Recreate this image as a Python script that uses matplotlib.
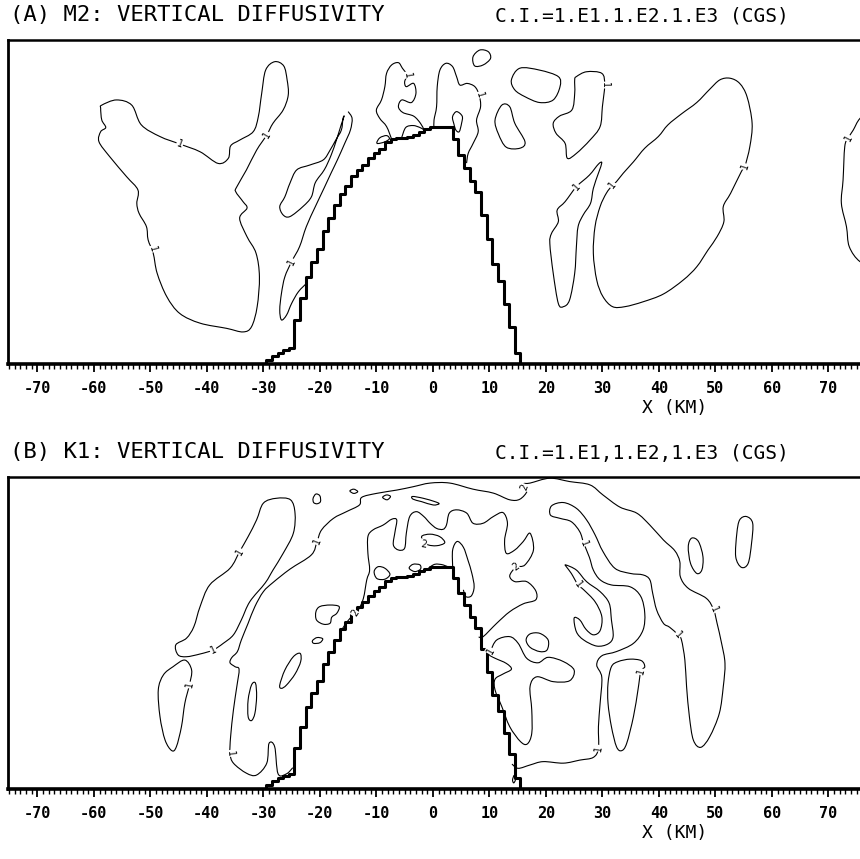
import numpy as np
import matplotlib
matplotlib.use("Agg")
import matplotlib.pyplot as plt
from matplotlib.path import Path
from matplotlib.patches import PathPatch

plt.rcParams['font.family'] = 'DejaVu Sans Mono'
plt.rcParams['axes.unicode_minus'] = False

# x in km, z in height units of the frame (0 = ground, frame top ~10)
TOPO_X = list(range(-31, 17))
TOPO_Z = [0, 0, 0.12, 0.25, 0.35, 0.43, 0.50, 1.35, 2.05, 2.70, 3.15, 3.55,
          4.10, 4.50, 4.90, 5.25, 5.50, 5.80, 6.00, 6.15, 6.35, 6.50, 6.65,
          6.85, 6.95, 6.97, 6.98, 7.00, 7.08, 7.17, 7.25, 7.30, 7.30, 7.30,
          7.30, 6.95, 6.45, 6.05, 5.65, 5.30, 4.60, 3.85, 3.10, 2.55, 1.85,
          1.15, 0.35, 0]

TICKS = list(range(-70, 80, 10))

# ---- panel A (M2) contours, 1.E1 level ----
A_BODY = [(-58.6, 7.99), (-56.0, 8.15), (-53.3, 7.99), (-51.6, 7.38), (-48.3, 7.02),
          (-44.8, 6.79), (-41.2, 6.55), (-38.0, 6.19), (-36.2, 6.35), (-35.8, 6.73),
          (-34.2, 6.91), (-31.8, 7.17), (-30.9, 7.63), (-30.3, 8.35), (-29.6, 9.07),
          (-28.0, 9.33), (-26.4, 9.20), (-25.8, 8.77), (-25.6, 8.30), (-26.5, 7.84),
          (-28.3, 7.43), (-29.4, 7.07), (-31.2, 6.60), (-33.0, 5.99), (-34.7, 5.47),
          (-34.9, 5.32), (-33.6, 5.01), (-32.9, 4.81), (-34.2, 4.50), (-32.9, 3.93),
          (-31.3, 3.42), (-30.7, 2.69), (-31.1, 1.77), (-32.1, 1.15), (-33.6, 0.99),
          (-36.5, 1.10), (-41.2, 1.26), (-44.8, 1.56), (-47.1, 2.08), (-48.8, 2.80),
          (-49.5, 3.42), (-50.4, 3.83), (-50.7, 4.24), (-52.0, 4.65), (-52.4, 4.96),
          (-52.2, 5.37), (-54.2, 5.78), (-57.2, 6.40), (-59.1, 6.86), (-58.8, 7.17),
          (-57.9, 7.30), (-58.6, 7.53), (-58.8, 7.89)]
A_BAND = [(-15.9, 7.58), (-16.2, 7.22), (-17.2, 6.91), (-18.2, 6.60), (-19.4, 6.30),
          (-21.8, 6.14), (-24.1, 5.99), (-25.3, 5.58), (-26.2, 5.16), (-27.1, 4.86),
          (-26.5, 4.60), (-25.3, 4.55), (-23.0, 4.86), (-21.5, 5.16), (-20.8, 5.60),
          (-19.2, 6.00), (-18.0, 6.45), (-17.0, 6.95), (-16.2, 7.40), (-15.7, 7.65)]
A_BAND_OUT = [(-15.0, 7.79), (-14.3, 7.58), (-14.6, 7.22), (-15.6, 6.81), (-16.9, 6.30),
              (-18.0, 5.90), (-19.2, 5.45), (-20.8, 4.86), (-22.4, 4.24), (-23.6, 3.62),
              (-25.0, 3.16), (-26.2, 2.69), (-26.8, 2.18), (-27.1, 1.67), (-26.8, 1.36),
              (-25.9, 1.51), (-25.0, 1.87), (-23.8, 2.23), (-22.3, 2.50)]
A_SUMMIT_L = [(-7.3, 6.94), (-8.2, 7.33), (-9.4, 7.58), (-10.0, 7.84), (-9.1, 8.15),
              (-8.5, 8.56), (-8.2, 8.97), (-7.3, 9.23), (-6.1, 9.30), (-5.4, 9.13),
              (-4.6, 8.92), (-5.0, 8.71), (-4.7, 8.56), (-3.4, 8.66), (-3.0, 8.35),
              (-3.8, 8.07), (-5.5, 8.15), (-6.1, 7.94), (-5.3, 7.76), (-3.4, 7.65),
              (-2.2, 7.43), (-1.6, 7.24)]
A_DOME = [(-5.5, 7.00), (-4.8, 7.30), (-3.5, 7.36), (-2.3, 7.30), (-1.7, 7.24)]
A_SLOPE = [(-9.9, 6.81), (-9.4, 6.98), (-8.2, 7.05), (-7.7, 6.95), (-8.6, 6.85)]
A_SUMMIT_R = [(0.2, 7.30), (0.2, 7.53), (0.65, 7.94), (0.77, 8.56), (1.24, 9.07),
              (2.30, 9.28), (3.48, 9.18), (4.19, 8.87), (4.78, 8.61), (6.07, 8.66),
              (7.43, 8.56), (8.19, 8.30), (8.44, 7.94), (7.73, 7.53), (8.02, 7.17),
              (7.13, 6.81), (6.25, 6.50), (5.96, 6.20)]
A_SUMMIT_R_IN = [(3.48, 7.63), (4.19, 7.79), (5.19, 7.65), (5.08, 7.43), (4.66, 7.17),
                 (4.07, 7.22), (3.72, 7.41)]
A_OVAL1 = [(7.1, 9.48), (8.3, 9.69), (9.8, 9.64), (10.2, 9.43), (8.9, 9.23), (7.4, 9.20)]
A_OVAL2 = [(13.9, 8.77), (15.4, 9.13), (18.9, 9.07), (22.2, 8.87), (22.5, 8.56),
           (21.3, 8.15), (18.9, 8.07), (16.3, 8.25), (14.5, 8.46)]
A_BLOB3 = [(11.0, 7.53), (12.2, 7.99), (13.6, 7.94), (14.5, 7.43), (16.3, 6.86),
           (15.4, 6.66), (13.0, 6.69), (11.6, 7.10)]
A_BLOB4 = [(25.4, 8.87), (27.2, 9.02), (29.9, 8.97), (30.4, 8.61), (30.0, 7.94),
           (29.6, 7.33), (27.8, 6.91), (25.4, 6.50), (23.8, 6.35), (23.4, 6.81),
           (21.8, 7.12), (21.3, 7.43), (22.4, 7.65), (24.6, 7.84), (25.1, 8.35), (25.1, 8.77)]
A_NARROW = [(29.9, 6.21), (29.3, 5.89), (28.4, 5.42), (27.9, 4.96), (26.6, 4.60),
            (25.7, 4.24), (25.4, 3.62), (25.1, 2.80), (24.2, 1.98), (23.1, 1.77),
            (22.2, 1.87), (21.3, 2.80), (20.7, 3.72), (21.0, 4.03), (22.2, 4.39),
            (22.0, 4.75), (23.4, 5.01), (25.4, 5.47), (27.7, 5.83), (29.3, 6.17)]
A_BIG = [(31.8, 5.52), (30.7, 5.27), (29.6, 4.86), (28.7, 4.24), (28.4, 3.42),
         (29.0, 2.59), (30.1, 2.08), (31.8, 1.77), (34.0, 1.77), (37.2, 1.92),
         (40.8, 2.16), (44.3, 2.59), (46.7, 3.00), (48.7, 3.52), (50.3, 3.93),
         (51.5, 4.39), (51.4, 4.86), (52.7, 5.27), (54.6, 5.94), (55.2, 6.09),
         (56.1, 6.71), (56.5, 7.43), (55.6, 8.25), (54.3, 8.66), (52.6, 8.82),
         (50.8, 8.77), (49.0, 8.48), (46.7, 8.07), (44.0, 7.72), (41.6, 7.38),
         (39.9, 7.02), (37.5, 6.66), (35.5, 6.24), (33.7, 5.89), (32.5, 5.63)]
A_EDGE = [(75.6, 7.58), (74.4, 7.22), (73.5, 6.97), (72.9, 6.71), (72.6, 5.68),
          (72.3, 4.96), (73.2, 4.24), (73.7, 3.62), (75.6, 3.16), (78.5, 3.00),
          (80.5, 4.50), (80.5, 7.00), (78.0, 7.90)]

A_CLOSED = [A_BODY, A_BAND, A_SLOPE, A_SUMMIT_R_IN, A_OVAL1, A_OVAL2, A_BLOB3,
            A_BLOB4, A_NARROW, A_BIG, A_EDGE]
A_OPEN = [A_BAND_OUT, A_SUMMIT_L, A_DOME, A_SUMMIT_R]
A_LABELS = [(-44.8, 6.79, "1"), (-29.4, 7.07, "1"), (-49.6, 3.55, "1"), (-25.0, 3.16, "1"),
            (-4.6, 8.92, "1"), (8.19, 8.30, "1"), (30.4, 8.61, "1"), (25.4, 5.47, "1"),
            (31.8, 5.52, "1"), (55.2, 6.09, "1"), (73.5, 6.97, "1")]

# ---- panel B (K1) contours ----
B_TILT = [(-45.1, 4.41), (-45.5, 4.74), (-43.6, 4.96), (-42.3, 5.34), (-41.2, 6.00),
          (-39.5, 6.71), (-35.9, 7.26), (-34.2, 7.81), (-32.7, 8.30), (-31.2, 8.85),
          (-30.0, 9.40), (-27.7, 9.56), (-25.2, 9.51), (-24.4, 9.07), (-24.7, 8.41),
          (-26.5, 7.75), (-28.3, 7.20), (-29.7, 6.77), (-32.4, 6.16), (-33.9, 5.56),
          (-35.3, 5.07), (-37.1, 4.79), (-38.9, 4.57), (-41.2, 4.44), (-43.6, 4.35)]
B_LOWLEFT = [(-43.9, 4.24), (-42.7, 3.91), (-43.1, 3.42), (-43.9, 2.82), (-44.5, 2.05),
             (-45.4, 1.39), (-46.2, 1.26), (-47.4, 1.61), (-48.3, 2.38), (-48.6, 3.26),
             (-47.7, 3.75), (-46.0, 4.02)]
B_ENVELOPE = [(-24.8, 0.70), (-25.9, 0.50), (-27.4, 0.50), (-28.0, 1.39), (-29.0, 1.50),
              (-29.4, 0.85), (-31.2, 0.46), (-33.0, 0.52), (-35.3, 0.85), (-35.9, 1.17),
              (-35.8, 1.72), (-35.3, 2.60), (-34.7, 3.37), (-34.3, 3.93), (-35.0, 4.02),
              (-35.9, 4.15), (-35.6, 4.32), (-34.6, 4.52), (-33.9, 4.90), (-32.7, 5.45),
              (-31.5, 6.00), (-30.0, 6.49), (-28.3, 6.79), (-25.3, 7.23), (-21.5, 7.70),
              (-20.5, 8.14), (-19.7, 8.52), (-17.6, 8.90), (-15.3, 9.12), (-13.0, 9.34),
              (-12.6, 9.59), (-10.0, 9.72), (-6.4, 9.83), (-3.5, 9.94), (-0.5, 10.06),
              (3.0, 10.06), (7.1, 9.86), (10.7, 9.73), (13.6, 9.51), (15.4, 9.53),
              (16.7, 9.81), (16.0, 10.03), (17.2, 10.06), (20.7, 10.22), (24.2, 10.11),
              (27.8, 10.00), (30.1, 9.67), (33.1, 9.27), (36.1, 9.07), (38.4, 8.68),
              (40.8, 8.19), (42.8, 7.84), (43.7, 7.48), (43.8, 6.98), (45.2, 6.60),
              (48.4, 6.27), (49.7, 5.89), (50.3, 5.45), (51.1, 4.79), (51.7, 4.13),
              (51.4, 3.37), (50.7, 2.49), (49.0, 1.72), (47.4, 1.37), (46.1, 1.61),
              (45.4, 2.38), (44.9, 3.37), (44.6, 4.24), (44.0, 4.90), (43.4, 5.07),
              (41.9, 5.32), (40.8, 5.45), (39.6, 5.89), (38.9, 6.44), (38.4, 6.88),
              (37.2, 7.04), (34.9, 7.09), (32.2, 7.26), (30.1, 7.81), (28.7, 8.36),
              (27.2, 8.85), (25.4, 9.23), (23.1, 9.42), (21.0, 9.31), (20.8, 9.01),
              (22.5, 8.90), (24.5, 8.79), (26.0, 8.46), (26.7, 8.08), (27.7, 7.62),
              (28.4, 7.20), (29.6, 6.88), (31.6, 6.71), (34.9, 6.65), (36.8, 6.33),
              (37.5, 5.78), (37.2, 5.23), (35.5, 4.79), (32.5, 4.52), (29.9, 4.38),
              (29.0, 4.08), (29.9, 3.67), (29.6, 2.82), (29.3, 2.05), (29.3, 1.34),
              (28.4, 1.04), (26.0, 0.95), (23.1, 0.85), (19.5, 0.90), (17.2, 0.79),
              (15.1, 0.68), (14.0, 0.82)]
B_INNER = [(-16.5, 5.12), (-15.6, 5.39), (-14.4, 5.67), (-13.2, 5.89), (-12.3, 6.27),
           (-11.7, 6.88), (-11.2, 7.20), (-11.5, 7.75), (-11.5, 8.30), (-10.6, 8.52),
           (-8.8, 8.68), (-7.3, 8.87), (-6.4, 8.85), (-6.7, 8.46), (-7.0, 8.03),
           (-6.1, 7.86), (-5.0, 7.92), (-4.7, 8.41), (-4.1, 8.96), (-2.9, 9.12),
           (-1.6, 8.96), (-0.5, 8.74), (0.65, 8.57), (1.8, 8.54), (2.4, 8.68),
           (2.9, 9.07), (4.2, 9.18), (6.0, 9.07), (7.1, 8.74), (8.9, 8.74),
           (10.7, 8.96), (12.4, 9.09), (13.2, 8.74), (12.7, 8.19), (13.0, 7.75),
           (14.5, 7.86), (16.0, 8.14), (17.2, 8.41), (17.8, 7.86), (16.3, 7.37),
           (14.7, 7.29), (13.6, 7.01), (14.5, 6.82), (16.6, 6.82), (18.2, 6.52),
           (18.2, 6.22), (16.0, 6.09), (13.6, 5.83), (11.3, 5.45), (8.9, 5.01), (8.1, 5.00)]
B_TONGUE = [(3.5, 7.31), (3.5, 7.86), (4.3, 8.14), (5.4, 7.95), (6.2, 7.53), (6.9, 7.09),
            (7.3, 6.65), (6.8, 6.35), (5.8, 6.33), (5.4, 6.55)]
B_DOME = [(-0.8, 7.26), (0.35, 7.39), (1.8, 7.37), (2.9, 7.28)]
B_OV1 = [(-21.2, 9.56), (-20.7, 9.70), (-20.0, 9.64), (-19.9, 9.45), (-20.5, 9.38), (-21.1, 9.42)]
B_OV2 = [(-14.7, 9.80), (-14.0, 9.86), (-13.3, 9.78), (-14.0, 9.72)]
B_OV3 = [(-8.9, 9.59), (-8.2, 9.67), (-7.5, 9.62), (-8.1, 9.51)]
B_OV4 = [(-3.6, 9.62), (-1.7, 9.56), (0.35, 9.45), (1.1, 9.38), (0.05, 9.34),
         (-2.0, 9.45), (-3.5, 9.53)]
B_LOOP2 = [(-2.0, 8.30), (-0.5, 8.38), (1.2, 8.30), (2.1, 8.10), (0.65, 8.00), (-1.1, 8.05)]
B_SLOPE1 = [(-10.4, 7.15), (-9.7, 7.31), (-8.5, 7.26), (-7.6, 7.06), (-8.5, 6.90), (-9.9, 6.92)]
B_SLOPE2 = [(-4.2, 7.26), (-3.5, 7.39), (-2.3, 7.37), (-2.2, 7.23), (-3.2, 7.15)]
B_BLOB5 = [(-20.7, 5.83), (-20.0, 6.00), (-18.2, 6.05), (-16.6, 6.00), (-17.0, 5.78),
           (-17.9, 5.65), (-18.2, 5.45), (-19.4, 5.42), (-20.6, 5.56)]
B_OV5 = [(-21.3, 4.88), (-20.5, 4.98), (-19.5, 4.94), (-20.0, 4.81), (-21.1, 4.79)]
B_ELL1 = [(-27.1, 3.42), (-26.2, 3.91), (-24.7, 4.35), (-23.5, 4.46), (-23.4, 4.19),
          (-24.4, 3.78), (-25.9, 3.42), (-26.8, 3.31)]
B_ELL2 = [(-32.7, 2.38), (-32.7, 2.93), (-32.1, 3.42), (-31.4, 3.48), (-31.2, 3.04),
          (-31.5, 2.49), (-32.1, 2.25)]
B_LOOP7 = [(10.2, 4.54), (11.3, 4.90), (13.6, 5.01), (15.1, 4.79), (16.6, 4.30),
           (18.6, 4.15), (20.4, 4.33), (23.1, 4.19), (25.0, 3.91), (24.2, 3.56),
           (21.3, 3.53), (18.4, 3.69), (17.2, 3.37), (17.5, 2.60), (17.5, 1.83),
           (16.7, 1.48), (15.5, 1.56), (13.6, 2.05), (12.2, 2.71), (11.0, 3.26),
           (11.0, 3.61), (12.4, 3.78), (13.9, 3.94), (13.0, 4.13), (11.0, 4.30), (10.0, 4.41)]
B_OV6 = [(16.5, 4.90), (17.2, 5.10), (18.9, 5.12), (20.4, 4.90), (20.2, 4.57),
         (18.9, 4.52), (17.2, 4.66)]
B_HOOK = [(23.5, 7.37), (25.4, 7.20), (27.2, 6.82), (29.6, 6.49), (31.2, 6.11),
          (31.6, 5.56), (31.9, 5.01), (31.0, 4.77), (29.0, 4.70), (26.7, 4.90),
          (25.4, 5.17), (25.0, 5.62), (26.0, 5.56), (27.1, 5.25), (28.4, 5.07),
          (29.6, 5.21), (29.9, 5.67), (28.7, 6.16), (26.7, 6.55), (25.7, 6.71),
          (24.5, 7.09), (23.7, 7.29)]
B_TALL = [(31.6, 4.02), (32.8, 4.19), (34.9, 4.27), (36.9, 4.22), (37.5, 4.02),
          (36.8, 3.86), (36.3, 3.26), (35.5, 2.38), (34.3, 1.50), (33.4, 1.26),
          (32.5, 1.39), (31.6, 2.05), (31.0, 2.82), (31.0, 3.48)]
B_OV7 = [(45.2, 7.97), (45.8, 8.25), (47.0, 8.14), (47.8, 7.64), (47.6, 7.20),
         (46.7, 7.09), (45.6, 7.42)]
B_OV8 = [(53.8, 8.41), (54.3, 8.85), (55.5, 8.96), (56.6, 8.74), (56.4, 8.08),
         (55.8, 7.42), (54.6, 7.29), (53.6, 7.64)]
B_TINY = [(14.1, 0.30), (14.4, 0.45), (14.6, 0.30), (14.3, 0.20)]

B_CLOSED = [B_TILT, B_LOWLEFT, B_OV1, B_OV2, B_OV3, B_OV4, B_LOOP2, B_SLOPE1, B_SLOPE2,
            B_BLOB5, B_OV5, B_ELL1, B_ELL2, B_LOOP7, B_OV6, B_HOOK, B_TALL, B_OV7,
            B_OV8, B_TINY]
B_OPEN = [B_ENVELOPE, B_INNER, B_TONGUE, B_DOME]
B_LABELS = [(-34.2, 7.81, "1"), (-38.9, 4.57, "1"), (-43.1, 3.42, "1"), (-20.5, 8.14, "1"),
            (-35.9, 1.17, "1"), (49.7, 5.89, "1"), (43.4, 5.07, "1"), (26.7, 8.08, "1"),
            (29.3, 1.34, "1"), (10.2, 4.54, "1"), (25.7, 6.71, "1"), (36.8, 3.86, "1"),
            (16.3, 9.92, "2"), (-1.6, 8.05, "2"), (-13.8, 5.78, "2"), (14.7, 7.29, "2")]

TITLES = [("(A) M2: VERTICAL DIFFUSIVITY", "C.I.=1.E1.1.E2.1.E3 (CGS)"),
          ("(B) K1: VERTICAL DIFFUSIVITY", "C.I.=1.E1,1.E2,1.E3 (CGS)")]


def smooth_path(pts, closed):
    # Catmull-Rom through the read points, handed to matplotlib as cubic beziers
    p = np.asarray(pts, float)
    if closed:
        ext = np.vstack([p[-1], p, p[0], p[1]])
    else:
        ext = np.vstack([p[0], p, p[-1]])
    verts = [ext[1]]
    codes = [Path.MOVETO]
    for i in range(1, len(ext) - 2):
        p0, p1, p2, p3 = ext[i - 1], ext[i], ext[i + 1], ext[i + 2]
        verts += [p1 + (p2 - p0) / 6.0, p2 - (p3 - p1) / 6.0, p2]
        codes += [Path.CURVE4] * 3
    return Path(np.array(verts), codes)


def label_angle(ax, lines, x, z):
    best = None
    for line in lines:
        arr = np.asarray(line, float)
        d = np.hypot(arr[:, 0] - x, (arr[:, 1] - z) * 5.7)
        i = int(np.argmin(d))
        if best is None or d[i] < best[0]:
            best = (d[i], arr, i)
    _, arr, i = best
    a = arr[max(i - 1, 0)]
    b = arr[min(i + 1, len(arr) - 1)]
    pa, pb = ax.transData.transform([a, b])
    ang = np.degrees(np.arctan2(pb[1] - pa[1], pb[0] - pa[0]))
    if ang > 90:
        ang -= 180
    if ang < -90:
        ang += 180
    return ang


def draw_panel(ax, closed, opened, labels, ztop):
    ax.set_xlim(-75.2, 80)
    ax.set_ylim(0, ztop)
    for line in closed:
        ax.add_patch(PathPatch(smooth_path(line, True), fill=False, ec='black', lw=0.8))
    for line in opened:
        ax.add_patch(PathPatch(smooth_path(line, False), fill=False, ec='black', lw=0.8))
    ax.step(TOPO_X, TOPO_Z, where='mid', color='black', lw=2.2)
    for x, z, s in labels:
        ang = label_angle(ax, closed + opened, x, z)
        ax.text(x, z, s, fontsize=7, rotation=ang, ha='center', va='center',
                rotation_mode='anchor',
                bbox=dict(boxstyle='square,pad=0.05', fc='white', ec='none'))
    ax.set_yticks([])
    ax.set_xticks(TICKS)
    ax.set_xticks(np.arange(-75, 81, 1), minor=True)
    ax.set_xticklabels([str(t) for t in TICKS], fontsize=11, fontweight='bold')
    ax.tick_params(axis='x', which='major', direction='out', length=6, width=1.3, pad=6)
    ax.tick_params(axis='x', which='minor', direction='out', length=3.5, width=1.0)
    ax.spines['bottom'].set_linewidth(2.6)
    ax.spines['left'].set_linewidth(2.0)
    ax.spines['top'].set_linewidth(1.8)
    ax.spines['right'].set_visible(False)
    ax.annotate("X (KM)", xy=(42.8, 0), xycoords=('data', 'axes fraction'),
                xytext=(0, -31.5), textcoords='offset points', ha='center', va='center',
                fontsize=13)


W, H = 860, 859
fig = plt.figure(figsize=(W / 100, H / 100), dpi=100)

# frames in pixels: left, top, bottom; width runs past the right edge
frames = [(8, 40, 364, 10.0), (8, 477, 789, 10.26)]
panels = [(A_CLOSED, A_OPEN, A_LABELS), (B_CLOSED, B_OPEN, B_LABELS)]
for (left, top, bottom, ztop), (cl, op, lab), (t1, t2) in zip(frames, panels, TITLES):
    width = 155.2 * 5.65
    ax = fig.add_axes([left / W, 1 - bottom / H, width / W, (bottom - top) / H])
    draw_panel(ax, cl, op, lab, ztop)
    fig.text(10 / W, 1 - (top - 25) / H, t1, fontsize=16, va='center', ha='left')
    fig.text(495 / W, 1 - (top - 24) / H, t2, fontsize=14, va='center', ha='left')

fig.savefig("out.png", dpi=100)
